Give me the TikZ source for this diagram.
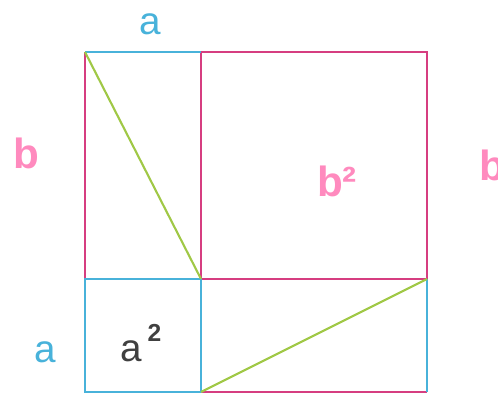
\documentclass[tikz,border=0pt]{standalone}
\usepackage{fontspec}
\setmainfont{Liberation Sans}
\definecolor{sidea}{RGB}{72,178,218}
\definecolor{sideb}{RGB}{214,62,128}
\definecolor{labelb}{RGB}{255,138,190}
\definecolor{hyp}{RGB}{160,200,70}
\tikzset{
  edge a/.style={draw=sidea,line width=1.5pt},
  edge b/.style={draw=sideb,line width=1.5pt},
  diag/.style={draw=hyp,line width=1.2pt},
  lbl a/.style={text=sidea,font=\fontsize{22}{22}\selectfont,inner sep=0pt},
  lbl b/.style={text=labelb,font=\fontsize{24}{24}\selectfont\bfseries,inner sep=0pt}
}
\begin{document}
\begin{tikzpicture}[x=0.02cm,y=-0.02cm]
\useasboundingbox (0,0) rectangle (498,395);
\clip (0,0) rectangle (498,395);
\coordinate (tl) at (85,52);
\coordinate (tm) at (201,52);
\coordinate (tr) at (427,52);
\coordinate (ml) at (85,279);
\coordinate (mc) at (201,279);
\coordinate (mr) at (427,279);
\coordinate (bl) at (85,392);
\coordinate (bm) at (201,392);
\coordinate (br) at (427,392);
% the b by b square and the two b-sides
\path[edge b] (tm) -- (tr) -- (mr) -- (mc) -- cycle;
\path[edge b] (tl) -- (ml);
\path[edge b] (bm) -- (br);
% the a by a square and the two a-sides
\path[edge a] (ml) -- (mc) -- (bm) -- (bl) -- cycle;
\path[edge a] (tl) -- (tm);
\path[edge a] (mr) -- (br);
\path[diag] (tl) -- (mc);
\path[diag] (bm) -- (mr);
\node[lbl a] (a-top) at (150,24) {a};
\node[lbl a] (a-left) at (45,352) {a};
\node[lbl b] (b-left) at (26,153) {b};
\node[lbl b,anchor=west] (b-right) at (479,165) {b};
\node[lbl b] (b-sq) at (337,181) {b²};
\node[text=black!75,font=\fontsize{22}{22}\selectfont,inner sep=0pt] (a-sq) at (141,343) {a\hspace{3pt}\raisebox{1.0ex}{\fontsize{14}{14}\selectfont\bfseries 2}};
\end{tikzpicture}
\end{document}
